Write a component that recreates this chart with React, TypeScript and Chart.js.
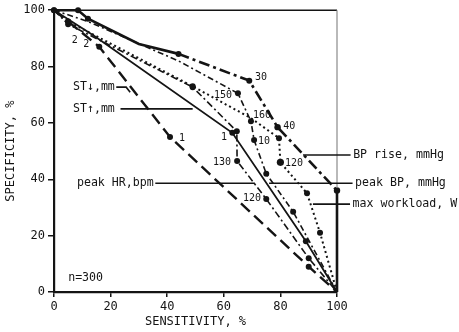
import React, { useEffect, useRef } from "react";
import { Chart, registerables } from "chart.js";
Chart.register(...registerables);

// ---- data (sensitivity %, specificity %) ----
const axisTicks = [0, 20, 40, 60, 80, 100];

const bpRiseSens = [0, 8.5, 12, 30, 44, 69, 79, 100, 100];
const bpRiseSpec = [100, 100, 97, 88, 84.5, 75, 58.5, 36, 0];

const peakBpSens = [0, 12, 44, 65, 69.6, 70.7, 75, 84.5, 100];
const peakBpSpec = [100, 96, 82, 70.5, 60.6, 53.9, 42, 28.5, 0];

const maxWorkSens = [0, 5, 49, 69.6, 79.5, 80, 89.4, 94, 100];
const maxWorkSpec = [100, 96, 73, 61.7, 54.6, 46, 35, 21, 0];

const stUpSens = [0, 14, 63, 89, 100];
const stUpSpec = [100, 91, 56.5, 18, 0];

const stDownSens = [0, 5, 16, 41, 90, 100];
const stDownSpec = [100, 96, 87, 55, 9, 0];

const peakHrSens = [0, 5, 49, 64.6, 64.7, 75, 90, 100];
const peakHrSpec = [100, 95, 72.7, 57, 46.5, 33, 12, 0];

const seriesNames = ["ST↓,mm", "ST↑,mm", "peak HR,bpm", "BP rise, mmHg", "peak BP, mmHg", "max workload, W"];

const pointLabelTexts = ["30", "40", "150", "160", "10", "120", "1", "1", "130", "120", "2", "2"];
const sampleNote = "n=300";

// annotation anchors (data coordinates)
const seriesNameAnchors = [
  { x: 6.7, y: 72.7, lx1: 22, lx2: 25.5 },
  { x: 6.7, y: 65, lx1: 23.5, lx2: 49 },
  { x: 8.1, y: 38.6, lx1: 35.8, lx2: 71 },
  { x: 105.7, y: 48.6, lx1: 88, lx2: 104.8 },
  { x: 106.4, y: 38.6, lx1: 76, lx2: 105.5 },
  { x: 105.5, y: 31.2, lx1: 91.5, lx2: 104.6 },
];
const pointLabelAnchors = [
  { x: 71, y: 76.2 }, { x: 81, y: 58.9 }, { x: 56.5, y: 69.9 }, { x: 70.3, y: 62.8 },
  { x: 72.1, y: 53.5 }, { x: 81.6, y: 45.7 }, { x: 59, y: 55 }, { x: 44.2, y: 54.6 },
  { x: 56.2, y: 46.1 }, { x: 66.8, y: 33.3 }, { x: 6.3, y: 89.3 }, { x: 10.3, y: 87.8 },
];
const noteAnchor = { x: 5, y: 5 };

const toXY = (xs: number[], ys: number[]) => xs.map((x, i) => ({ x, y: ys[i] }));

const MONO = "'DejaVu Sans Mono', monospace";
const INK = "#141414";

export default function App() {
  const ref = useRef<HTMLCanvasElement>(null);
  useEffect(() => {
    document.body.style.margin = "0";
    const annot = {
      id: "annot",
      afterDraw(chart: any) {
        const { ctx, chartArea } = chart;
        const xs = chart.scales.x, ys = chart.scales.y;
        const px = (v: number) => xs.getPixelForValue(v);
        const py = (v: number) => ys.getPixelForValue(v);
        ctx.save();
        // frame top / right
        ctx.strokeStyle = INK;
        ctx.lineWidth = 1.6;
        ctx.beginPath();
        ctx.moveTo(chartArea.left, chartArea.top);
        ctx.lineTo(chartArea.right, chartArea.top);
        ctx.stroke();
        ctx.strokeStyle = "#8a8a8a";
        ctx.lineWidth = 1.2;
        ctx.beginPath();
        ctx.moveTo(chartArea.right, chartArea.top);
        ctx.lineTo(chartArea.right, py(37));
        ctx.stroke();
        // leaders
        ctx.strokeStyle = INK;
        ctx.lineWidth = 1.6;
        seriesNameAnchors.forEach((a, i) => {
          ctx.beginPath();
          ctx.moveTo(px(a.lx1), py(a.y));
          ctx.lineTo(px(a.lx2), py(a.y));
          if (i === 0) ctx.lineTo(px(a.lx2) + 4, py(a.y) + 5);
          ctx.stroke();
        });
        // texts
        ctx.fillStyle = INK;
        ctx.textBaseline = "middle";
        ctx.textAlign = "left";
        ctx.font = `11.6px ${MONO}`;
        seriesNames.forEach((t, i) => {
          const a = seriesNameAnchors[i];
          ctx.fillText(t, px(a.x), py(a.y));
        });
        ctx.fillText(sampleNote, px(noteAnchor.x), py(noteAnchor.y));
        ctx.font = `10px ${MONO}`;
        pointLabelTexts.forEach((t, i) => {
          const a = pointLabelAnchors[i];
          ctx.fillText(t, px(a.x), py(a.y));
        });
        ctx.restore();
      },
    };

    const base = {
      showLine: true,
      borderColor: INK,
      backgroundColor: INK,
      pointBackgroundColor: INK,
      pointBorderWidth: 0,
      clip: false as any,
      fill: false,
    };

    const chart = new Chart(ref.current as HTMLCanvasElement, {
      type: "scatter",
      data: {
        datasets: [
          {
            ...base,
            label: seriesNames[3],
            data: toXY(bpRiseSens, bpRiseSpec),
            borderWidth: 2.6,
            pointRadius: [3, 3, 3, 0, 3, 3, 3.2, 3.2, 0],
            segment: { borderDash: (c: any) => (c.p0DataIndex < 4 ? [] : [11, 4, 3, 4]) },
          },
          {
            ...base,
            label: seriesNames[4],
            data: toXY(peakBpSens, peakBpSpec),
            borderWidth: 1.6,
            borderDash: [6, 3, 2, 3],
            pointRadius: [0, 0, 0, 3, 3, 3, 3, 3, 0],
          },
          {
            ...base,
            label: seriesNames[5],
            data: toXY(maxWorkSens, maxWorkSpec),
            borderWidth: 2,
            borderDash: [2, 3],
            pointRadius: [0, 3, 3, 0, 3, 3.6, 3, 3, 0],
          },
          {
            ...base,
            label: seriesNames[1],
            data: toXY(stUpSens, stUpSpec),
            borderWidth: 1.8,
            pointRadius: [0, 0, 3, 3, 0],
          },
          {
            ...base,
            label: seriesNames[0],
            data: toXY(stDownSens, stDownSpec),
            borderWidth: 2.4,
            borderDash: [12, 6],
            pointRadius: [3, 3, 3, 3, 3, 0],
          },
          {
            ...base,
            label: seriesNames[2],
            data: toXY(peakHrSens, peakHrSpec),
            borderWidth: 1.6,
            borderDash: [7, 3, 2, 3],
            pointRadius: [0, 3, 3, 3, 3, 3, 3, 0],
          },
        ],
      },
      options: {
        animation: false,
        responsive: false,
        maintainAspectRatio: false,
        events: [],
        layout: { padding: { top: 10, right: 122, left: 0, bottom: 0 } },
        plugins: { legend: { display: false }, tooltip: { enabled: false } },
        scales: {
          x: {
            type: "linear",
            min: 0,
            max: 100,
            afterFit: (s: any) => { s.height = 40; },
            afterBuildTicks: (s: any) => { s.ticks = axisTicks.map((v) => ({ value: v })); },
            border: { display: true, color: INK, width: 2.2 },
            grid: { display: true, drawOnChartArea: false, drawTicks: true, tickLength: 5, color: INK, lineWidth: 1.5 },
            ticks: { color: INK, font: { family: MONO, size: 12 }, padding: 3, maxRotation: 0 },
            title: { display: true, text: "SENSITIVITY, %", color: INK, font: { family: MONO, size: 12 }, padding: { top: 0, bottom: 3 } },
          },
          y: {
            type: "linear",
            min: 0,
            max: 100,
            afterFit: (s: any) => { s.width = 54; },
            afterBuildTicks: (s: any) => { s.ticks = axisTicks.map((v) => ({ value: v })); },
            border: { display: true, color: INK, width: 2.2 },
            grid: { display: true, drawOnChartArea: false, drawTicks: true, tickLength: 6, color: INK, lineWidth: 1.5 },
            ticks: { color: INK, font: { family: MONO, size: 12 }, padding: 3 },
            title: { display: true, text: "SPECIFICITY, %", color: INK, font: { family: MONO, size: 12 }, padding: { top: 4, bottom: 0 } },
          },
        },
      },
      plugins: [annot],
    } as any);
    return () => chart.destroy();
  }, []);
  return <canvas ref={ref} width={459} height={332} style={{ display: "block" }} />;
}
